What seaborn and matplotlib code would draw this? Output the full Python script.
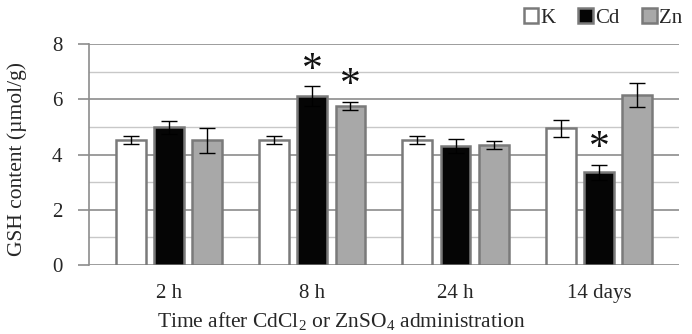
import numpy as np
import pandas as pd
import matplotlib
matplotlib.use("Agg")
import matplotlib.pyplot as plt
import seaborn as sns

times = ["2 h", "8 h", "24 h", "14 days"]
groups = ["K", "Cd", "Zn"]
k_vals = [4.52, 4.52, 4.52, 4.95]
cd_vals = [4.98, 6.12, 4.32, 3.35]
zn_vals = [4.52, 5.75, 4.35, 6.15]
k_err = [0.15, 0.15, 0.15, 0.30]
cd_err = [0.22, 0.35, 0.25, 0.27]
zn_err = [0.45, 0.15, 0.15, 0.43]
signif = [(1, "Cd"), (1, "Zn"), (3, "Cd")]

sns.set_theme(style="white")
plt.rcParams["font.family"] = ["Liberation Serif", "DejaVu Serif"]
plt.rcParams["mathtext.fontset"] = "custom"
plt.rcParams["mathtext.rm"] = "Liberation Serif"
plt.rcParams["mathtext.it"] = "Liberation Serif:italic"

df = pd.DataFrame({
    "time": np.repeat(times, 3),
    "group": groups * len(times),
    "value": [v for trio in zip(k_vals, cd_vals, zn_vals) for v in trio],
    "err": [v for trio in zip(k_err, cd_err, zn_err) for v in trio],
})

colors = {"K": "#ffffff", "Cd": "#050505", "Zn": "#a8a8a8"}

fig = plt.figure(figsize=(6.92, 3.34), dpi=100)
ax = fig.add_axes([0.1286, 0.2066, 0.8524, 0.6614])

ax.set_ylim(0, 8)
ax.set_yticks([0, 2, 4, 6, 8])
ax.set_yticks([1, 3, 5, 7], minor=True)
ax.grid(axis="y", which="major", color="#8c8c8c", linewidth=1.2, zorder=0)
ax.grid(axis="y", which="minor", color="#c8c8c8", linewidth=1.0, zorder=0)
ax.set_axisbelow(True)

sns.barplot(data=df, x="time", y="value", hue="group", order=times,
            hue_order=groups, palette=colors, edgecolor="#7a7a7a",
            linewidth=1.8, gap=0.22, errorbar=None, ax=ax, zorder=3)

# error bars and asterisks
conts = ax.containers
for gi, g in enumerate(groups):
    sub = df[df["group"] == g].set_index("time").loc[times]
    xs = [p.get_x() + p.get_width() / 2 for p in conts[gi]]
    ax.errorbar(xs, sub["value"], yerr=sub["err"], fmt="none",
                ecolor="black", elinewidth=1.0, capsize=6, capthick=1.0,
                zorder=5)
    for ti, sg in signif:
        if sg == g:
            ax.text(xs[ti], sub["value"].iloc[ti] + sub["err"].iloc[ti] - 0.12,
                    "*", ha="center", va="bottom", fontsize=30,
                    color="#111111", zorder=6)

for s in ["top", "right", "bottom"]:
    ax.spines[s].set_visible(False)
ax.spines["left"].set_color("#8c8c8c")
ax.spines["left"].set_linewidth(1.2)
ax.tick_params(axis="y", which="major", length=8, color="#8c8c8c",
               width=1.2, labelsize=15, pad=11, left=True)
ax.tick_params(axis="x", length=0, labelsize=15, pad=14)

ax.set_xlabel("Time after CdCl$_2$ or ZnSO$_4$ administration",
              fontsize=15.5)
ax.xaxis.set_label_coords(0.427, -0.205)
ax.set_ylabel("GSH content (µmol/g)", fontsize=15.5)
ax.yaxis.set_label_coords(-0.105, 0.48)

ax.legend(loc="lower right", bbox_to_anchor=(1.02, 1.035), ncol=3,
          frameon=False, fontsize=15, handlelength=0.7, handleheight=0.7,
          handletextpad=0.1, columnspacing=1.1, borderaxespad=0)

fig.savefig("out.png", dpi=100)
